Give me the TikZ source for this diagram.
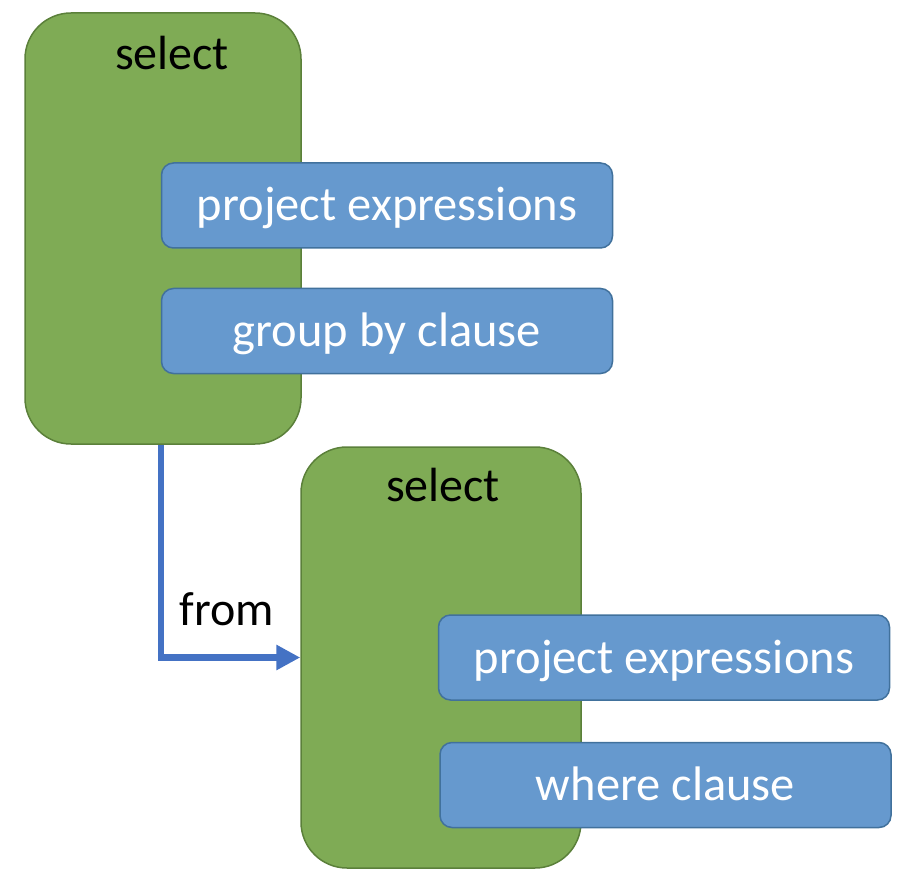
\documentclass[tikz,border=0pt]{standalone}
\usepackage{fontspec}
\setmainfont{Carlito}
\usetikzlibrary{arrows.meta, positioning}

\definecolor{stagegreen}{HTML}{7FAB55}
\definecolor{stageedge}{HTML}{5B803A}
\definecolor{partblue}{HTML}{6699CE}
\definecolor{partedge}{HTML}{41719C}
\definecolor{flowblue}{HTML}{4472C4}

\begin{document}
\begin{tikzpicture}[
		x=1pt, y=-1pt,
		stage/.style={rectangle, draw=stageedge, fill=stagegreen, line width=1.5pt, rounded corners=46pt, minimum width=276pt, inner sep=0pt},
		part/.style={rectangle, draw=partedge, fill=partblue, line width=1.5pt, rounded corners=12pt, minimum width=451pt, minimum height=85pt, inner sep=0pt, text height=31pt, text depth=0pt, text=white, font=\fontsize{48.5}{58}\selectfont},
		title/.style={inner sep=0pt, font=\fontsize{48}{58}\selectfont},
		flow/.style={draw=flowblue, line width=6.5pt, -{Triangle[length=24pt, width=24pt]}}
		]
		\useasboundingbox (0,0) rectangle (920,890);
		
		% Outer select
		\node[stage, minimum height=431pt] (outer) at (163,228.5) {};
		\node[title] (outersel) at (172,53) {select};
		\node[part] (outerproj) at (387,205.5) {project expressions};
		\node[part] (groupby) at (387,331) {group by clause};
		
		% Inner select
		\node[stage, minimum width=280pt, minimum height=421pt] (inner) at (441,657.5) {};
		\node[title] (innersel) at (443,485) {select};
		\node[part] (innerproj) at (664,657.5) {project expressions};
		\node[part] (where) at (665.5,785) {where clause};
		
		% Connect them
		\draw[flow] (outerproj.west |- outer.south) |- (inner.west);
		\node[title] (fromlbl) at (227,609) {from};
	\end{tikzpicture}
\end{document}
